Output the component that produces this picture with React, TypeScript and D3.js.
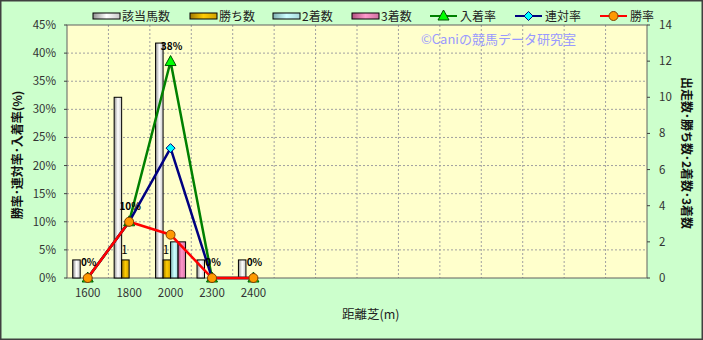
import React from "react";
import * as d3 from "d3";

const categories = ["1600", "1800", "2000", "2300", "2400", "", "", "", "", "", "", "", "", ""];
const runners = [1, 10, 13, 1, 1];
const wins = [0, 1, 1, 0, 0];
const seconds = [0, 0, 2, 0, 0];
const thirds = [0, 0, 2, 0, 0];
const placeRate = [0, 10, 38.5, 0, 0];
const quinellaRate = [0, 10, 23.1, 0, 0];
const winRate = [0, 10, 7.7, 0, 0];
const placeLabels = ["0%", "10%", "38%", "0%", "0%"];
const winLabels = ["", "1", "1", "", ""];
const leftTicks = [0, 5, 10, 15, 20, 25, 30, 35, 40, 45];
const rightTicks = [0, 2, 4, 6, 8, 10, 12, 14];

const W = 703, H = 340;
const L = 67, R = 647, T = 25, B = 278;
const FONT = "'Noto Sans CJK JP', 'DejaVu Sans', sans-serif";

export default function App() {
  const x = d3.scaleBand<number>().domain(d3.range(categories.length)).range([L, R]).paddingInner(0).paddingOuter(0);
  const yL = d3.scaleLinear().domain([0, 45]).range([B, T]);
  const yR = d3.scaleLinear().domain([0, 14]).range([B, T]);
  const bw = x.bandwidth();
  const barW = 7.5;
  const groupOff = (bw - barW * 4) / 2;
  const cx = (i: number) => (x(i) as number) + bw / 2;

  const barSeries = [
    { name: "該当馬数", data: runners, grad: "gGray" },
    { name: "勝ち数", data: wins, grad: "gGold" },
    { name: "2着数", data: seconds, grad: "gBlue" },
    { name: "3着数", data: thirds, grad: "gPink" },
  ];
  const lineSeries = [
    { name: "入着率", data: placeRate, color: "#008000", fill: "#00ff00", stroke: "#005000", shape: "tri" },
    { name: "連対率", data: quinellaRate, color: "#000080", fill: "#00ffff", stroke: "#000080", shape: "dia" },
    { name: "勝率", data: winRate, color: "#ff0000", fill: "#ff9900", stroke: "#804000", shape: "circ" },
  ];
  const line = d3.line<number>().x((_, i) => cx(i)).y((d) => yL(d));

  const marker = (shape: string, px: number, py: number, fill: string, stroke: string, key: string) => {
    if (shape === "tri") return <path key={key} d={`M${px},${py - 6}L${px + 5.5},${py + 4}L${px - 5.5},${py + 4}Z`} fill={fill} stroke={stroke} strokeWidth={1} />;
    if (shape === "dia") return <path key={key} d={`M${px},${py - 4.5}L${px + 4.5},${py}L${px},${py + 4.5}L${px - 4.5},${py}Z`} fill={fill} stroke={stroke} strokeWidth={1} />;
    return <circle key={key} cx={px} cy={py} r={4.5} fill={fill} stroke={stroke} strokeWidth={1} />;
  };

  const legendBars = [
    { x: 93, tx: 122 },
    { x: 190, tx: 219 },
    { x: 273, tx: 302 },
    { x: 352, tx: 381 },
  ];
  const legendLines = [
    { x: 430, tx: 460 },
    { x: 515, tx: 545 },
    { x: 600, tx: 630 },
  ];

  return (
    <svg width={W} height={H} style={{ display: "block", position: "absolute", left: 0, top: 0 }} fontFamily={FONT}>
      <defs>
        <linearGradient id="gGray" x1="0" x2="1" y1="0" y2="0">
          <stop offset="0" stopColor="#909090" />
          <stop offset="0.5" stopColor="#ffffff" />
          <stop offset="1" stopColor="#c8c8c8" />
        </linearGradient>
        <linearGradient id="gGold" x1="0" x2="1" y1="0" y2="0">
          <stop offset="0" stopColor="#a07800" />
          <stop offset="0.5" stopColor="#ffcc00" />
          <stop offset="1" stopColor="#d0a000" />
        </linearGradient>
        <linearGradient id="gBlue" x1="0" x2="1" y1="0" y2="0">
          <stop offset="0" stopColor="#80b0b0" />
          <stop offset="0.5" stopColor="#ccffff" />
          <stop offset="1" stopColor="#a8dada" />
        </linearGradient>
        <linearGradient id="gPink" x1="0" x2="1" y1="0" y2="0">
          <stop offset="0" stopColor="#b05080" />
          <stop offset="0.5" stopColor="#ff99cc" />
          <stop offset="1" stopColor="#d070a0" />
        </linearGradient>
      </defs>
      <rect x={0.75} y={0.75} width={W - 1.5} height={H - 1.5} fill="#ccffcc" stroke="#404040" strokeWidth={1.5} />
      <rect x={L} y={T} width={R - L} height={B - T} fill="#ffffcc" />
      {leftTicks.slice(1, -1).map((t) => (
        <line key={"hg" + t} x1={L} x2={R} y1={yL(t)} y2={yL(t)} stroke="#a0a0a0" strokeDasharray="2,2" strokeWidth={1} />
      ))}
      {d3.range(1, categories.length).map((i) => (
        <line key={"vg" + i} x1={x(i) as number} x2={x(i) as number} y1={T} y2={B} stroke="#a0a0a0" strokeDasharray="2,2" strokeWidth={1} />
      ))}
      <rect x={L} y={T} width={R - L} height={B - T} fill="none" stroke="#606060" strokeWidth={1} />
      {leftTicks.map((t) => (
        <g key={"lt" + t}>
          <line x1={L - 3} x2={L} y1={yL(t)} y2={yL(t)} stroke="#404040" />
          <text x={56} y={yL(t) + 4} textAnchor="end" fontSize={11.5} fill="#333">{t + "%"}</text>
        </g>
      ))}
      {rightTicks.map((t) => (
        <g key={"rt" + t}>
          <line x1={R} x2={R + 3} y1={yR(t)} y2={yR(t)} stroke="#404040" />
          <text x={659} y={yR(t) + 4} textAnchor="start" fontSize={11.5} fill="#333">{t}</text>
        </g>
      ))}
      {categories.map((c, i) => (
        <text key={"xl" + i} x={cx(i)} y={297} textAnchor="middle" fontSize={11.5} fill="#333">{c}</text>
      ))}
      <text x={342} y={319} textAnchor="start" fontSize={12.5} fill="#222">距離芝(m)</text>
      <text transform={`translate(22,155) rotate(-90)`} textAnchor="middle" fontSize={12} fontWeight="bold" fill="#111">勝率･連対率･入着率(%)</text>
      <text transform={`translate(682,153) rotate(90)`} textAnchor="middle" fontSize={12} fontWeight="bold" fill="#111">出走数･勝ち数･2着数･3着数</text>
      <text x={421} y={44} fontSize={13} fill="#9999ff">©Caniの競馬データ研究室</text>
      {barSeries.map((s, si) =>
        s.data.map((v, i) =>
          v > 0 ? (
            <rect key={s.name + i} x={(x(i) as number) + groupOff + si * barW} y={yR(v)} width={barW} height={yR(0) - yR(v)} fill={`url(#${s.grad})`} stroke="#000" strokeWidth={1} />
          ) : null
        )
      )}
      {lineSeries.map((s) => (
        <path key={s.name} d={line(s.data) as string} fill="none" stroke={s.color} strokeWidth={2.5} />
      ))}
      {lineSeries.map((s) => s.data.map((v, i) => marker(s.shape, cx(i), yL(v), s.fill, s.stroke, s.name + "m" + i)))}
      {placeLabels.map((l, i) => (
        <text key={"pl" + i} x={cx(i) + 1} y={yL(placeRate[i]) - 12} textAnchor="middle" fontSize={10} fontWeight="bold" fill="#000">{l}</text>
      ))}
      {winLabels.map((l, i) => (
        <text key={"wl" + i} x={(x(i) as number) + groupOff + barW * 1.5 - 1} y={yR(wins[i]) - 6} textAnchor="middle" fontSize={11.5} fill="#000">{l}</text>
      ))}
      {barSeries.map((s, i) => (
        <g key={"lb" + i}>
          <rect x={legendBars[i].x} y={13} width={27} height={6} fill={`url(#${s.grad})`} stroke="#000" strokeWidth={1} />
          <text x={legendBars[i].tx} y={20.5} fontSize={12} fill="#222">{s.name}</text>
        </g>
      ))}
      {lineSeries.map((s, i) => (
        <g key={"ll" + i}>
          <line x1={legendLines[i].x} x2={legendLines[i].x + 27} y1={16} y2={16} stroke={s.color} strokeWidth={2} />
          {marker(s.shape, legendLines[i].x + 13.5, 16, s.fill, s.stroke, "lm" + i)}
          <text x={legendLines[i].tx} y={20.5} fontSize={12} fill="#222">{s.name}</text>
        </g>
      ))}
    </svg>
  );
}
